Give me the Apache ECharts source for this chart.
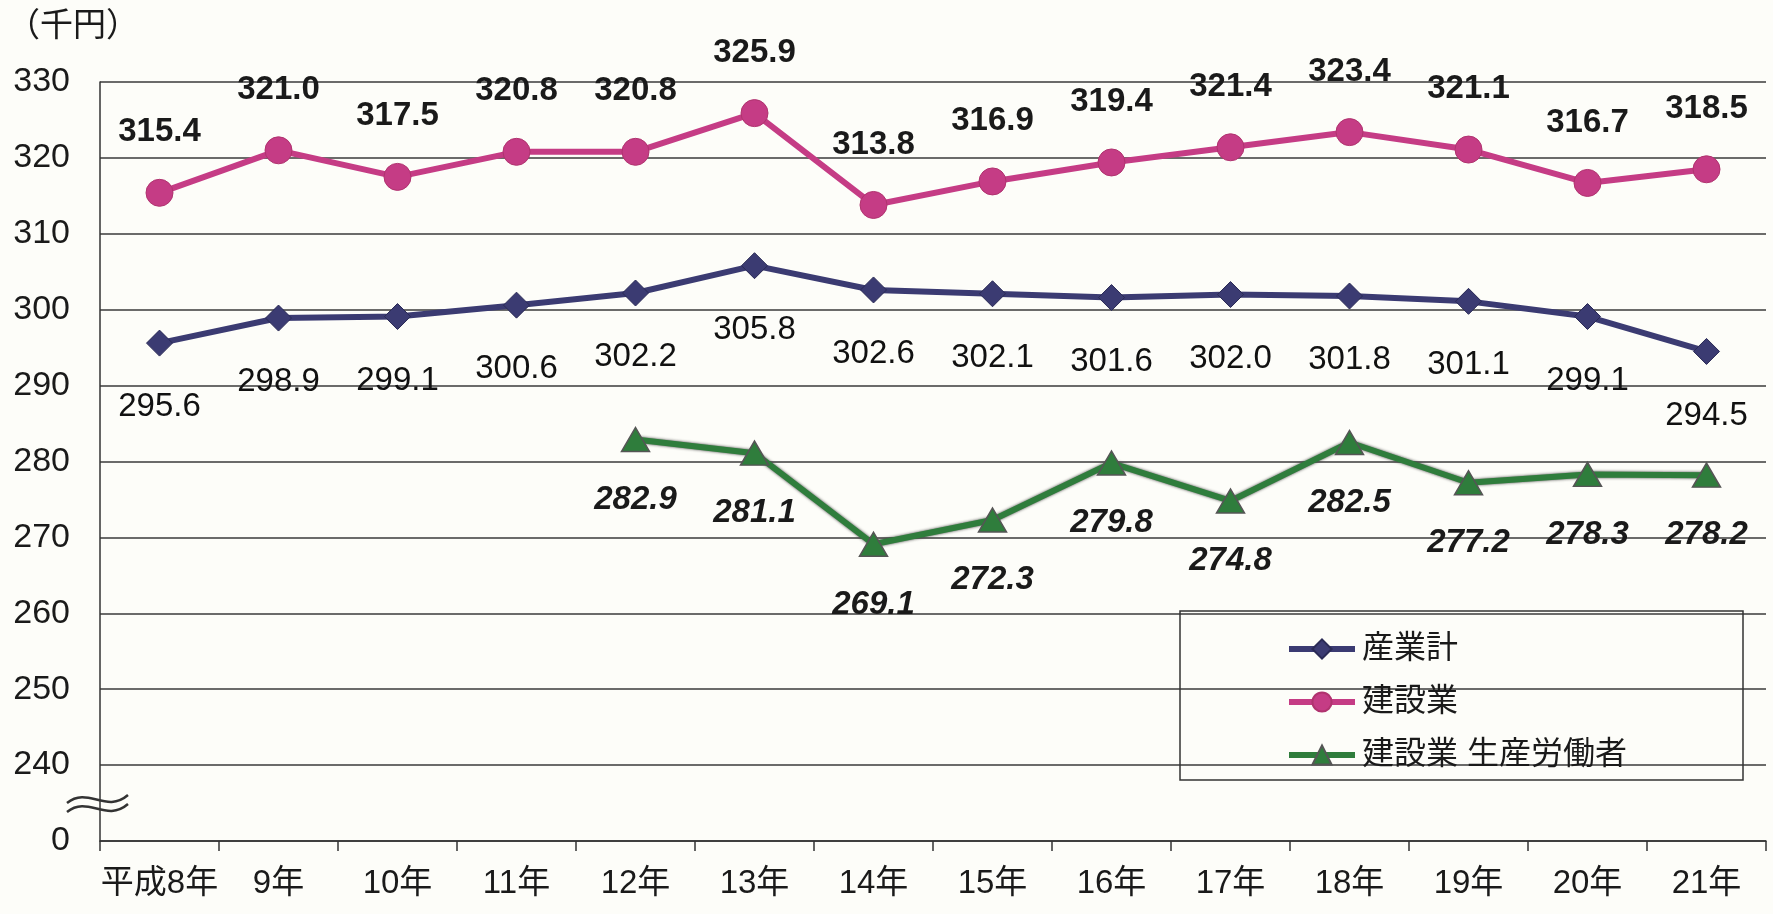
<!DOCTYPE html>
<html>
<head>
<meta charset="utf-8">
<script src="https://cdn.jsdelivr.net/npm/echarts@6/dist/echarts.min.js"></script>
<style>
html,body{margin:0;padding:0;background:#fdfdf9;}
#c{width:1773px;height:914px;}
</style>
</head>
<body>
<div id="c"></div>
<script>
const categories = ['平成8年','9年','10年','11年','12年','13年','14年','15年','16年','17年','18年','19年','20年','21年'];
const sangyokei = [295.6, 298.9, 299.1, 300.6, 302.2, 305.8, 302.6, 302.1, 301.6, 302.0, 301.8, 301.1, 299.1, 294.5];
const kensetsu = [315.4, 321.0, 317.5, 320.8, 320.8, 325.9, 313.8, 316.9, 319.4, 321.4, 323.4, 321.1, 316.7, 318.5];
const seisan = [null, null, null, null, 282.9, 281.1, 269.1, 272.3, 279.8, 274.8, 282.5, 277.2, 278.3, 278.2];
const seriesNames = ['産業計', '建設業', '建設業 生産労働者'];
const yMin = 230, yMax = 330, yStep = 10;
const brokenTickLabel = '0';
const unitLabel = '（千円）';

const FONT = "'Liberation Sans', 'Noto Sans CJK JP', sans-serif";
const chart = echarts.init(document.getElementById('c'), null, {renderer: 'canvas'});

const fmt = v => (v == null ? '' : v.toFixed(1));

chart.setOption({
  backgroundColor: '#fdfdf9',
  animation: false,
  textStyle: {fontFamily: FONT},
  title: {
    text: unitLabel, left: 2, top: 5,
    textStyle: {fontSize: 33, fontWeight: 'normal', color: '#1a1a1a', fontFamily: FONT}
  },
  grid: {left: 100, right: 7, top: 82, bottom: 73, containLabel: false},
  xAxis: {
    type: 'category',
    data: categories,
    boundaryGap: true,
    axisLine: {show: true, lineStyle: {color: '#333', width: 1.5}},
    axisTick: {show: true, interval: 0, length: 10, lineStyle: {color: '#333', width: 1.5}},
    axisLabel: {interval: 0, fontSize: 33, color: '#1a1a1a', margin: 26, fontFamily: FONT},
    splitLine: {show: false}
  },
  yAxis: {
    type: 'value',
    min: yMin, max: yMax, interval: yStep,
    axisLine: {show: true, lineStyle: {color: '#333', width: 1.5}},
    axisTick: {show: false},
    axisLabel: {
      fontSize: 34, color: '#1a1a1a', margin: 30, fontFamily: FONT,
      formatter: v => (v === yMin ? brokenTickLabel : String(v))
    },
    splitLine: {show: true, lineStyle: {color: '#3a3a3a', width: 1.5}}
  },
  legend: {
    orient: 'vertical',
    left: 1286, top: 633,
    padding: 0,
    itemGap: 21,
    itemWidth: 66, itemHeight: 24,
    data: seriesNames,
    lineStyle: {width: 6},
    textStyle: {fontSize: 32, color: '#1a1a1a', fontFamily: FONT, padding: [0, 0, 0, 2]}
  },
  graphic: [
    {type: 'rect', shape: {x: 1180, y: 611, width: 563, height: 169},
     style: {fill: 'rgba(255,255,255,0)', stroke: '#333', lineWidth: 1.5}, z: 5, silent: true},
    {type: 'bezierCurve', shape: {x1: 67, y1: 803, cpx1: 88, cpy1: 786, cpx2: 106, cpy2: 814, x2: 128, y2: 795},
     style: {stroke: '#333', lineWidth: 2.5, fill: null}, z: 10},
    {type: 'bezierCurve', shape: {x1: 67, y1: 812, cpx1: 88, cpy1: 795, cpx2: 106, cpy2: 823, x2: 128, y2: 804},
     style: {stroke: '#333', lineWidth: 2.5, fill: null}, z: 10}
  ],
  series: [
    {
      name: seriesNames[0], type: 'line', data: sangyokei,
      symbol: 'diamond', symbolSize: [26, 26],
      itemStyle: {color: '#3b3b72', borderColor: '#2a2a55', borderWidth: 1},
      lineStyle: {color: '#3b3b72', width: 6},
      label: {show: true, position: 'bottom', distance: 34, fontSize: 33, color: '#111',
              fontFamily: FONT, formatter: p => fmt(p.value)},
      z: 3
    },
    {
      name: seriesNames[1], type: 'line', data: kensetsu,
      symbol: 'circle', symbolSize: 27,
      itemStyle: {color: '#c53c85', borderColor: '#b0336f', borderWidth: 1},
      lineStyle: {color: '#c53c85', width: 6},
      label: {show: true, position: 'top', distance: 30, fontSize: 33, fontWeight: 'bold', color: '#1a1a1a',
              fontFamily: FONT, formatter: p => fmt(p.value)},
      z: 3
    },
    {
      name: seriesNames[2], type: 'line', data: seisan,
      symbol: 'triangle', symbolSize: [28, 24],
      connectNulls: false,
      itemStyle: {color: '#2f7d3c', borderColor: '#555', borderWidth: 1.5},
      lineStyle: {color: '#2f7d3c', width: 6, shadowColor: 'rgba(50,50,50,0.9)', shadowBlur: 3},
      label: {show: true, position: 'bottom', distance: 31, fontSize: 33, fontWeight: 'bold', fontStyle: 'italic',
              color: '#1a1a1a', fontFamily: FONT, formatter: p => fmt(p.value)},
      z: 3
    }
  ]
});
</script>
</body>
</html>
